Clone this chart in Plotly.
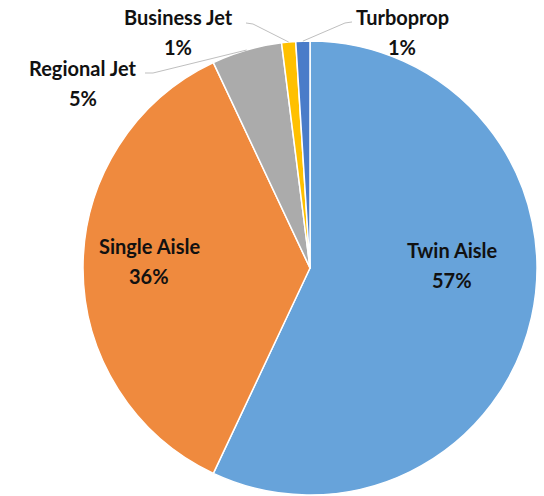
import math
import plotly.graph_objects as go

labels = ["Twin Aisle", "Single Aisle", "Regional Jet", "Business Jet", "Turboprop"]
values = [57.0, 36.0, 5.0, 1.0, 1.0]
colors = ["#67A3DA", "#EF8A3E", "#ABABAB", "#FFC000", "#4A7CC9"]

W, H = 544, 496
CX, CY, R = 310, 268, 227

# label name-line positions (pixels); percentage line sits 30px lower
label_pos = {
    "Twin Aisle": (452, 250),
    "Single Aisle": (149, 246),
    "Regional Jet": (83, 68),
    "Business Jet": (178, 17),
    "Turboprop": (402, 17),
}
# leader line start points (pixels) with short horizontal elbow
leader_start = {
    "Regional Jet": [(145, 73), (153, 73)],
    "Business Jet": [(246, 23), (253, 24)],
    "Turboprop": [(352, 22), (345, 23)],
}


def px(x):
    return x / W


def py(y):
    return 1 - y / H


fig = go.Figure(go.Pie(
    labels=labels,
    values=values,
    sort=False,
    direction="clockwise",
    rotation=0,
    marker=dict(colors=colors, line=dict(color="white", width=1.5)),
    textinfo="none",
    hoverinfo="label+percent",
    showlegend=False,
    domain=dict(x=[px(CX - R), px(CX + R)], y=[py(CY + R), py(CY - R)]),
))

total = sum(values)
font = dict(family="Lato, Open Sans, sans-serif", size=20, color="#111111", weight="bold")
annotations = []
shapes = []
cum = 0.0
for lab, v in zip(labels, values):
    mid = 2 * math.pi * (cum + v / 2) / total
    cum += v
    pct = round(100 * v / total)
    lx, ly = label_pos[lab]
    annotations.append(dict(x=px(lx), y=py(ly), xref="paper", yref="paper",
                            text=lab, showarrow=False, font=font,
                            xanchor="center", yanchor="middle"))
    annotations.append(dict(x=px(lx), y=py(ly + 30), xref="paper", yref="paper",
                            text=f"{pct}%", showarrow=False, font=font,
                            xanchor="center", yanchor="middle"))
    if lab in leader_start:
        rx = CX + R * math.sin(mid)
        ry = CY - R * math.cos(mid)
        pts = leader_start[lab] + [(rx, ry)]
        path = "M " + " L ".join(f"{px(x):.5f},{py(y):.5f}" for x, y in pts)
        shapes.append(dict(type="path", path=path, xref="paper", yref="paper",
                           line=dict(color="#BFBFBF", width=1)))

fig.update_layout(
    width=W, height=H,
    margin=dict(l=0, r=0, t=0, b=0),
    paper_bgcolor="white",
    plot_bgcolor="white",
    annotations=annotations,
    shapes=shapes,
)

fig.write_html("out.html",
               config={"displayModeBar": False},
               post_script="document.body.style.margin='0';document.body.style.overflow='hidden';")
